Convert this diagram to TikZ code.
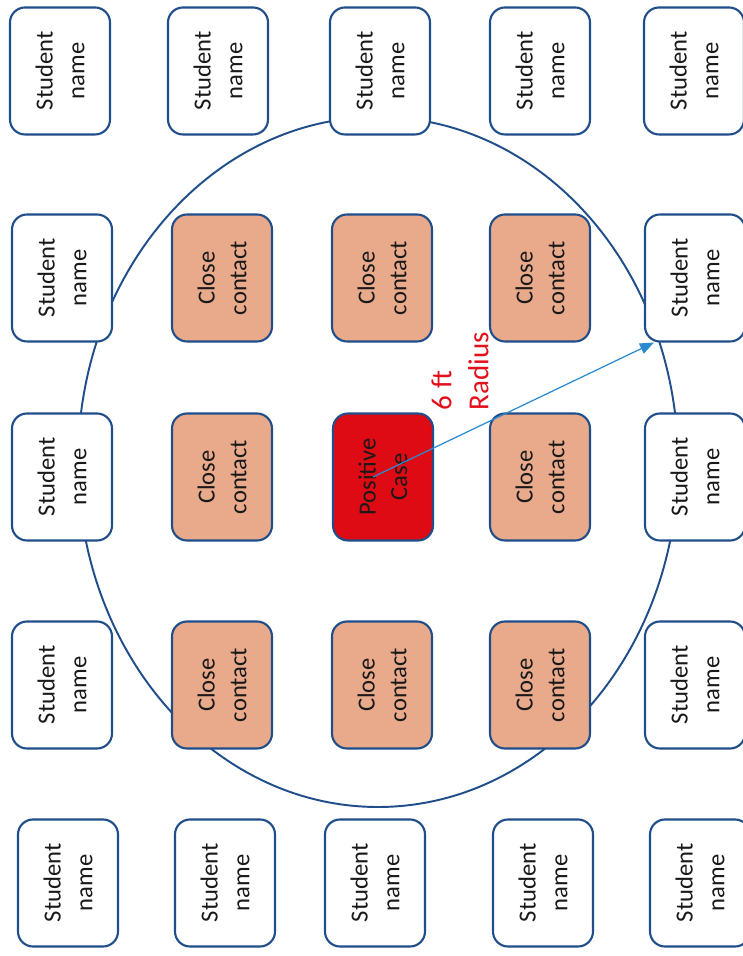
\documentclass[tikz,border=0pt]{standalone}
\usepackage{fontspec}
\setmainfont{Carlito}
\usepackage{tikz}
\usetikzlibrary{arrows.meta, positioning, shapes.misc}
\definecolor{SeatBlue}{HTML}{1F4E8A}
\definecolor{ArrowBlue}{HTML}{2A8AD0}
\definecolor{ContactSalmon}{HTML}{E9A98B}
\definecolor{CaseRed}{HTML}{DE0A14}
\definecolor{LabelRed}{HTML}{E3101C}
\colorlet{SeatBorder}{SeatBlue}
\colorlet{RingLine}{SeatBlue}

\begin{document}
\begin{tikzpicture}[
        seat/.style={rectangle, rounded corners=0.3cm, draw=SeatBorder, line width=1.2pt,
            rotate=90, minimum width=2.54cm, minimum height=2cm, align=center,
            inner sep=0pt, text=black!90, font=\fontsize{14}{18}\selectfont},
        student/.style={seat, fill=white},
        contact/.style={seat, fill=ContactSalmon},
        positive/.style={seat, fill=CaseRed},
        ring/.style={draw=RingLine, line width=1.1pt},
        radius arrow/.style={draw=ArrowBlue, line width=0.7pt, -{Triangle[length=0.28cm, width=0.22cm]}}
    ]
    
    % Background
    \fill[white] (0,0) rectangle (14.84,19.12);
    \useasboundingbox (0,0) rectangle (14.84,19.12);
    
    % 6 ft circle
    \draw[ring] (7.56,9.88) ellipse (6.0 and 6.9);
    
    % Row 1
    \node[student] (s-1-1) at (1.20,17.70) {Student\\name};
    \node[student] (s-1-2) at (4.36,17.70) {Student\\name};
    \node[student] (s-1-3) at (7.60,17.70) {Student\\name};
    \node[student] (s-1-4) at (10.80,17.70) {Student\\name};
    \node[student] (s-1-5) at (13.88,17.70) {Student\\name};
    
    % Row 2
    \node[student] (s-2-1) at (1.24,13.56) {Student\\name};
    \node[contact] (s-2-2) at (4.44,13.56) {Close\\contact};
    \node[contact] (s-2-3) at (7.64,13.56) {Close\\contact};
    \node[contact] (s-2-4) at (10.80,13.56) {Close\\contact};
    \node[student] (s-2-5) at (13.90,13.56) {Student\\name};
    
    % Row 3
    \node[student] (s-3-1) at (1.24,9.58) {Student\\name};
    \node[contact] (s-3-2) at (4.44,9.58) {Close\\contact};
    \node[positive] (pos) at (7.66,9.58) {Positive\\Case};
    \node[contact] (s-3-4) at (10.80,9.58) {Close\\contact};
    \node[student] (s-3-5) at (13.90,9.58) {Student\\name};
    
    % Row 4
    \node[student] (s-4-1) at (1.24,5.42) {Student\\name};
    \node[contact] (s-4-2) at (4.44,5.42) {Close\\contact};
    \node[contact] (s-4-3) at (7.64,5.42) {Close\\contact};
    \node[contact] (s-4-4) at (10.80,5.42) {Close\\contact};
    \node[student] (s-4-5) at (13.90,5.42) {Student\\name};
    
    % Row 5
    \node[student] (s-5-1) at (1.36,1.46) {Student\\name};
    \node[student] (s-5-2) at (4.50,1.46) {Student\\name};
    \node[student] (s-5-3) at (7.50,1.46) {Student\\name};
    \node[student] (s-5-4) at (10.86,1.46) {Student\\name};
    \node[student] (s-5-5) at (14.00,1.46) {Student\\name};
    
    % Radius arrow and label
    \draw[radius arrow] ([xshift=-0.2cm]pos.center) -- ([xshift=0.2cm]s-2-5.north west);
    \node[rotate=90, align=left, text=LabelRed, font=\fontsize{16.5}{21}\selectfont] (rad) at (9.20,11.70) {6 ft\\Radius};
    
\end{tikzpicture}
\end{document}
